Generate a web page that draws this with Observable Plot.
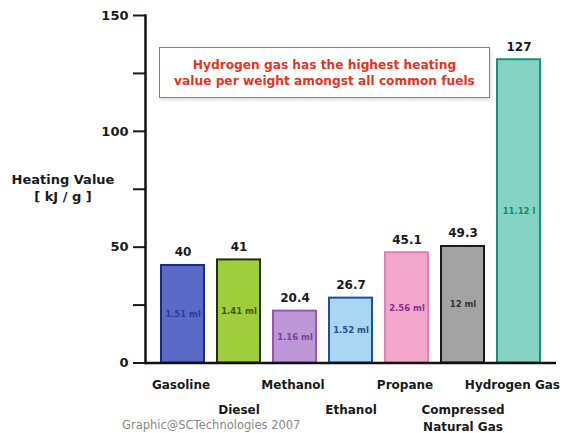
<!DOCTYPE html>
<html><head><meta charset="utf-8">
<script src="https://cdn.jsdelivr.net/npm/d3@7"></script>
<script src="https://cdn.jsdelivr.net/npm/@observablehq/plot@0.6"></script>
<style>
body{margin:0;background:#fff;font-family:"DejaVu Sans",sans-serif;}
#wrap{position:relative;width:562px;height:433px;overflow:hidden;background:#fff;}
#chart{position:absolute;left:0;top:0;}
.note{position:absolute;left:159px;top:47px;width:329px;height:49px;border:1.5px solid #c9664f;
  box-shadow:1px 2px 3px rgba(120,120,120,0.25);background:#fff;color:#e5331c;font-weight:bold;
  font-size:12.2px;line-height:16px;text-align:center;display:flex;align-items:center;justify-content:center;}
.ylab{position:absolute;left:0px;top:171px;width:126px;text-align:center;font-weight:bold;font-size:13px;line-height:17px;color:#1a1a1a;}
.credit{position:absolute;left:122px;top:418px;font-size:11.5px;line-height:14px;color:#888;white-space:nowrap;}
</style></head><body>
<div id="wrap">
  <div id="chart"></div>
  <div class="note">Hydrogen gas has the highest heating<br>value per weight amongst all common fuels</div>
  <div class="ylab">Heating Value<br>[ kJ / g ]</div>
  <div class="credit">Graphic@SCTechnologies 2007</div>
</div>
<script>
// Data
const fuels = ["Gasoline", "Diesel", "Methanol", "Ethanol", "Propane", "Compressed\nNatural Gas", "Hydrogen Gas"];
const barHeights = [42.1, 44.5, 22.4, 28.0, 47.6, 50.3, 130.9];
const valueLabels = ["40", "41", "20.4", "26.7", "45.1", "49.3", "127"];
const volumeLabels = ["1.51 ml", "1.41 ml", "1.16 ml", "1.52 ml", "2.56 ml", "12 ml", "11.12 l"];
const majorTicks = [0, 50, 100, 150];
const minorTicks = [25, 75, 125];

// Styles
const fillColors = ["#5b6ac6", "#9fcd3c", "#bd97d6", "#a9d6f2", "#f3a6cc", "#a3a3a3", "#84d3c3"];
const strokeColors = ["#1d2a86", "#22300c", "#9a55b8", "#1c4f9c", "#e67bb8", "#1a1a1a", "#15917d"];
const innerTextColors = ["#2b3b9c", "#3d5a12", "#7b3ea3", "#24508e", "#8e2c8c", "#333333", "#138a6c"];

const data = fuels.map((f, i) => ({
  fuel: f, height: barHeights[i], value: valueLabels[i], volume: volumeLabels[i],
  fill: fillColors[i], stroke: strokeColors[i], tcolor: innerTextColors[i], i
}));
const last = fuels.length - 1;

const font = "DejaVu Sans";
const labelStyle = {fontSize: 12, fontWeight: "bold", fill: "#1a1a1a"};
const chart = Plot.plot({
  width: 562, height: 433,
  marginTop: 15, marginBottom: 70.5, marginLeft: 145, marginRight: 6,
  style: {fontFamily: font, background: "transparent", color: "#1a1a1a"},
  x: {domain: fuels, paddingInner: 0.23, paddingOuter: 0.24, axis: null},
  y: {domain: [0, 150], axis: null},
  color: {type: "identity"},
  marks: [
    Plot.barY(data, {x: "fuel", y: "height", fill: "fill", stroke: "stroke", strokeWidth: 2}),
    Plot.text(data, {x: "fuel", y: d => d.height / 2, text: "volume", fill: "tcolor", fontSize: 8.5, fontWeight: 600}),
    Plot.text(data, {x: "fuel", y: "height", text: "value", dy: -13, ...labelStyle}),
    Plot.text(data.filter(d => d.i % 2 === 0 && d.i !== last), {x: "fuel", y: 0, text: "fuel", dy: 22, dx: -2, ...labelStyle}),
    Plot.text(data.filter(d => d.i === last), {x: "fuel", y: 0, text: "fuel", dy: 22, dx: 41, textAnchor: "end", ...labelStyle}),
    Plot.text(data.filter(d => d.i % 2 === 1), {x: "fuel", y: 0, text: "fuel", dy: 39, lineAnchor: "top", lineHeight: 1.4, letterSpacing: 0.3, ...labelStyle}),
    Plot.axisY({ticks: majorTicks, tickSize: 12, tickPadding: 5, fontSize: 13, fontWeight: "bold", strokeWidth: 2, label: null, fill: "#1a1a1a"}),
    Plot.axisY({ticks: minorTicks, tickSize: 12, tickFormat: () => "", strokeWidth: 2, label: null}),
    Plot.ruleY([0], {strokeWidth: 2.5, stroke: "#111"}),
    Plot.frame({anchor: "left", strokeWidth: 2.5, stroke: "#111"})
  ]
});
document.getElementById("chart").appendChild(chart);
</script>
</body></html>
